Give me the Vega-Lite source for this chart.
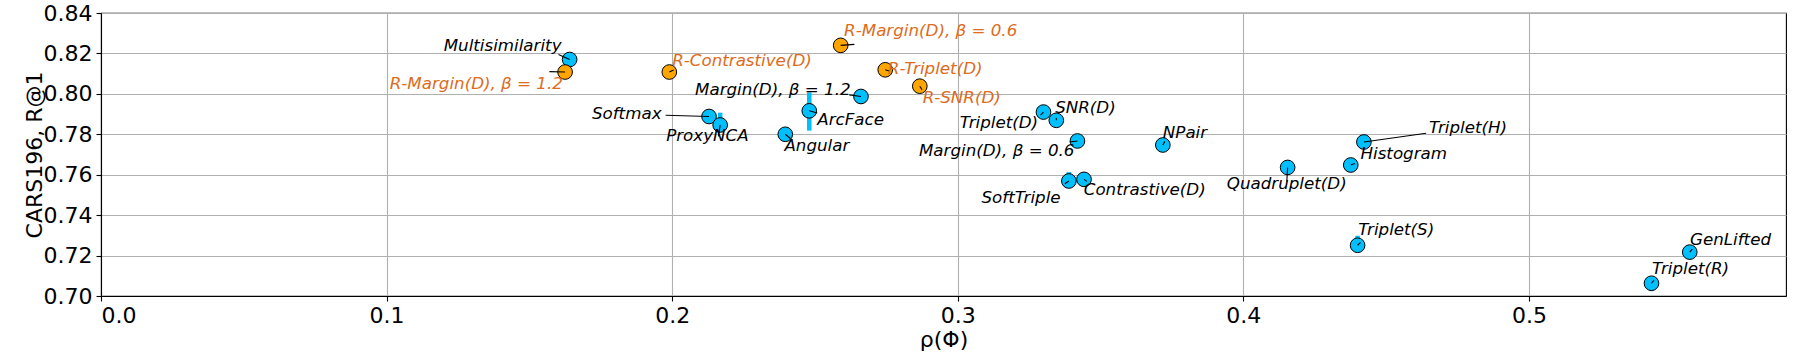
{
  "$schema": "https://vega.github.io/schema/vega-lite/v6.json",
  "width": 1685,
  "height": 283,
  "autosize": {"type": "none"},
  "padding": {"left": 101, "top": 13, "right": 14, "bottom": 64},
  "background": "white",
  "config": {
    "view": {"stroke": "black", "strokeWidth": 1.1},
    "font": "DejaVu Sans",
    "axis": {
      "labelFont": "DejaVu Sans", "labelFontSize": 22, "labelColor": "black",
      "titleFont": "DejaVu Sans", "titleFontSize": 22, "titleFontWeight": "normal", "titleColor": "black",
      "domainColor": "black", "domainWidth": 1.1, "tickColor": "black", "tickSize": 5, "tickWidth": 1.1,
      "gridColor": "#b0b0b0", "gridWidth": 1.1, "labelPadding": 4
    }
  },
  "datasets": {
    "pts": [
      {"name": "Multisimilarity", "group": "base", "rho": 0.1641, "r1": 0.8170, "lx": 0.1200, "ly": 0.8212, "ax": 0.1602, "ay": 0.8195},
      {"name": "Softmax", "group": "base", "rho": 0.2129, "r1": 0.7888, "lx": 0.1719, "ly": 0.7878, "ax": 0.1977, "ay": 0.7894},
      {"name": "ProxyNCA", "group": "base", "rho": 0.2168, "r1": 0.7846, "lx": 0.1979, "ly": 0.7767, "ax": 0.2162, "ay": 0.7790, "lo": 0.7815, "hi": 0.7907},
      {"name": "ArcFace", "group": "base", "rho": 0.2480, "r1": 0.7916, "lx": 0.2508, "ly": 0.7845, "ax": 0.2508, "ay": 0.7905, "lo": 0.7818, "hi": 0.8007},
      {"name": "Angular", "group": "base", "rho": 0.2396, "r1": 0.7800, "lx": 0.2393, "ly": 0.7717, "ax": 0.2415, "ay": 0.7778},
      {"name": "Margin(D), β = 1.2", "group": "base", "rho": 0.2661, "r1": 0.7987, "lx": 0.2080, "ly": 0.7993, "ax": 0.2620, "ay": 0.7995},
      {"name": "Triplet(D)", "group": "base", "rho": 0.3300, "r1": 0.7910, "lx": 0.3007, "ly": 0.7831, "ax": 0.3290, "ay": 0.7895},
      {"name": "SNR(D)", "group": "base", "rho": 0.3345, "r1": 0.7869, "lx": 0.3341, "ly": 0.7906, "ax": 0.3345, "ay": 0.7880},
      {"name": "Margin(D), β = 0.6", "group": "base", "rho": 0.3419, "r1": 0.7767, "lx": 0.2864, "ly": 0.7693, "ax": 0.3392, "ay": 0.7762},
      {"name": "NPair", "group": "base", "rho": 0.3718, "r1": 0.7747, "lx": 0.3718, "ly": 0.7783, "ax": 0.3725, "ay": 0.7765},
      {"name": "SoftTriple", "group": "base", "rho": 0.3389, "r1": 0.7569, "lx": 0.3083, "ly": 0.7462, "ax": 0.3375, "ay": 0.7555, "lo": 0.7545, "hi": 0.7613},
      {"name": "Contrastive(D)", "group": "base", "rho": 0.3442, "r1": 0.7577, "lx": 0.3441, "ly": 0.7499, "ax": 0.3452, "ay": 0.7567},
      {"name": "Quadruplet(D)", "group": "base", "rho": 0.4155, "r1": 0.7636, "lx": 0.3942, "ly": 0.7531, "ax": 0.4152, "ay": 0.7565},
      {"name": "Histogram", "group": "base", "rho": 0.4376, "r1": 0.7648, "lx": 0.4410, "ly": 0.7676, "ax": 0.4390, "ay": 0.7655},
      {"name": "Triplet(H)", "group": "base", "rho": 0.4422, "r1": 0.7762, "lx": 0.4650, "ly": 0.7808, "ax": 0.4640, "ay": 0.7805},
      {"name": "Triplet(S)", "group": "base", "rho": 0.4400, "r1": 0.7251, "lx": 0.4402, "ly": 0.7302, "ax": 0.4410, "ay": 0.7265, "lo": 0.7225, "hi": 0.7298},
      {"name": "GenLifted", "group": "base", "rho": 0.5563, "r1": 0.7217, "lx": 0.5564, "ly": 0.7250, "ax": 0.5572, "ay": 0.7232},
      {"name": "Triplet(R)", "group": "base", "rho": 0.5429, "r1": 0.7063, "lx": 0.5431, "ly": 0.7109, "ax": 0.5438, "ay": 0.7078, "lo": 0.7024, "hi": 0.7090},
      {"name": "R-Margin(D), β = 1.2", "group": "reg", "rho": 0.1625, "r1": 0.8108, "lx": 0.1011, "ly": 0.8026, "ax": 0.1570, "ay": 0.8110},
      {"name": "R-Contrastive(D)", "group": "reg", "rho": 0.1990, "r1": 0.8108, "lx": 0.2000, "ly": 0.8140, "ax": 0.2005, "ay": 0.8118},
      {"name": "R-Margin(D), β = 0.6", "group": "reg", "rho": 0.2590, "r1": 0.8240, "lx": 0.2602, "ly": 0.8286, "ax": 0.2638, "ay": 0.8245},
      {"name": "R-Triplet(D)", "group": "reg", "rho": 0.2746, "r1": 0.8119, "lx": 0.2755, "ly": 0.8099, "ax": 0.2762, "ay": 0.8112},
      {"name": "R-SNR(D)", "group": "reg", "rho": 0.2867, "r1": 0.8038, "lx": 0.2877, "ly": 0.7955, "ax": 0.2875, "ay": 0.8020}
    ]
  },
  "data": {"name": "pts"},
  "layer": [
    {
      "transform": [{"filter": "isValid(datum.lo)"}],
      "mark": {"type": "rule", "color": "#00bfff", "strokeWidth": 4.5},
      "encoding": {
        "x": {"field": "rho", "type": "quantitative", "title": "ρ(Φ)",
              "scale": {"domain": [0, 0.59], "nice": false, "zero": false},
              "axis": {"values": [0, 0.1, 0.2, 0.3, 0.4, 0.5], "format": ".1f", "titlePadding": 3}},
        "y": {"field": "lo", "type": "quantitative", "title": "CARS196, R@1",
              "scale": {"domain": [0.70, 0.84], "nice": false, "zero": false},
              "axis": {"values": [0.70, 0.72, 0.74, 0.76, 0.78, 0.80, 0.82, 0.84], "format": ".2f", "titlePadding": -3}},
        "y2": {"field": "hi"}
      }
    },
    {
      "mark": {"type": "point", "shape": "circle", "filled": true, "size": 215, "stroke": "black", "strokeWidth": 1, "opacity": 1},
      "encoding": {
        "x": {"field": "rho", "type": "quantitative", "title": "ρ(Φ)"},
        "y": {"field": "r1", "type": "quantitative", "title": "CARS196, R@1"},
        "fill": {"field": "group", "type": "nominal", "scale": {"domain": ["base", "reg"], "range": ["#00bfff", "#ffa500"]}, "legend": null}
      }
    },
    {
      "mark": {"type": "rule", "color": "black", "strokeWidth": 1.1},
      "encoding": {
        "x": {"field": "ax", "type": "quantitative", "title": "ρ(Φ)"},
        "y": {"field": "ay", "type": "quantitative", "title": "CARS196, R@1"},
        "x2": {"field": "rho"},
        "y2": {"field": "r1"}
      }
    },
    {
      "mark": {"type": "text", "font": "DejaVu Sans", "fontStyle": "italic", "fontSize": 16.7, "align": "left", "baseline": "alphabetic"},
      "encoding": {
        "x": {"field": "lx", "type": "quantitative", "title": "ρ(Φ)"},
        "y": {"field": "ly", "type": "quantitative", "title": "CARS196, R@1"},
        "text": {"field": "name"},
        "color": {"field": "group", "type": "nominal", "scale": {"domain": ["base", "reg"], "range": ["#000000", "#dd6b20"]}, "legend": null}
      }
    }
  ],
  "resolve": {"scale": {"color": "independent", "fill": "independent"}}
}
